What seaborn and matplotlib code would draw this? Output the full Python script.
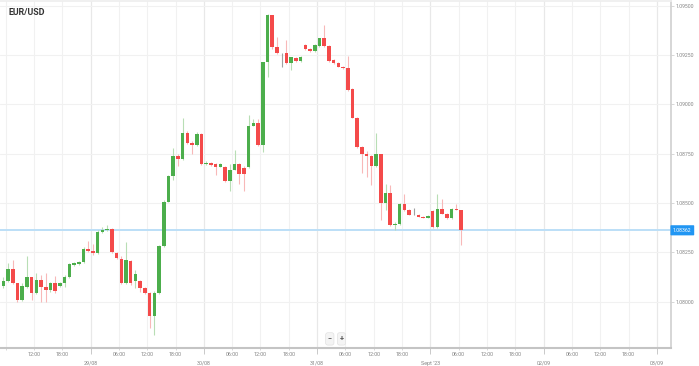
# EUR/USD hourly candles, 28/08 -> 01/09
import pandas as pd
import matplotlib
matplotlib.use("Agg")
import matplotlib.pyplot as plt
import matplotlib.dates as mdates
import matplotlib.transforms as mtransforms
import seaborn as sns

# Data (hourly bars starting 28/08 05:00)
start_time = "2023-08-28 05:00"

opens = [1.08081, 1.08106, 1.08164, 1.08093, 1.08008, 1.08076, 1.08123, 1.08045, 1.08110, 1.08076,
         1.08059, 1.08093, 1.08081, 1.08093, 1.08123, 1.08185, 1.08189, 1.08201, 1.08265, 1.08258,
         1.08245, 1.08354, 1.08362, 1.08371, 1.08245, 1.08219, 1.08093, 1.08207, 1.08106, 1.08106,
         1.08068, 1.08045, 1.07928, 1.08045, 1.08282, 1.08506, 1.08635, 1.08737, 1.08721, 1.08856,
         1.08804, 1.08792, 1.08851, 1.08696, 1.08703, 1.08696, 1.08682, 1.08682, 1.08610, 1.08669,
         1.08696, 1.08679, 1.08682, 1.08893, 1.08907, 1.08792, 1.09213, 1.09451, 1.09289, 1.09258,
         1.09259, 1.09208, 1.09236, 1.09222, 1.09303, 1.09281, 1.09269, 1.09298, 1.09335, 1.09298,
         1.09225, 1.09208, 1.09192, 1.09183, 1.09079, 1.08932, 1.08784, 1.08747, 1.08737, 1.08686,
         1.08747, 1.08500, 1.08551, 1.08388, 1.08393, 1.08494, 1.08464, 1.08448, 1.08442, 1.08430,
         1.08425, 1.08460, 1.08379, 1.08472, 1.08447, 1.08422, 1.08472, 1.08464]
highs = [1.08126, 1.08197, 1.08211, 1.08096, 1.08093, 1.08231, 1.08126, 1.08146, 1.08135, 1.08146,
         1.08101, 1.08130, 1.08101, 1.08135, 1.08194, 1.08201, 1.08206, 1.08278, 1.08308, 1.08295,
         1.08362, 1.08379, 1.08388, 1.08373, 1.08250, 1.08231, 1.08303, 1.08211, 1.08160, 1.08110,
         1.08074, 1.08050, 1.08054, 1.08287, 1.08514, 1.08641, 1.08777, 1.08747, 1.08929, 1.08863,
         1.08812, 1.08858, 1.08853, 1.08711, 1.08706, 1.08701, 1.08701, 1.08686, 1.08696, 1.08770,
         1.08701, 1.08686, 1.08944, 1.08924, 1.08927, 1.09217, 1.09460, 1.09455, 1.09343, 1.09262,
         1.09327, 1.09242, 1.09239, 1.09247, 1.09308, 1.09284, 1.09308, 1.09338, 1.09402, 1.09301,
         1.09228, 1.09213, 1.09197, 1.09247, 1.09082, 1.08934, 1.08787, 1.08762, 1.08742, 1.08854,
         1.08750, 1.08599, 1.08590, 1.08403, 1.08499, 1.08544, 1.08469, 1.08474, 1.08447, 1.08433,
         1.08438, 1.08464, 1.08548, 1.08523, 1.08450, 1.08475, 1.08494, 1.08467]
lows = [1.08068, 1.08101, 1.08089, 1.08000, 1.08005, 1.08069, 1.08008, 1.08039, 1.08000, 1.08000,
        1.08050, 1.08045, 1.08076, 1.08076, 1.08118, 1.08180, 1.08185, 1.08197, 1.08253, 1.08236,
        1.08241, 1.08346, 1.08359, 1.08245, 1.08219, 1.08089, 1.08089, 1.08084, 1.08068, 1.08050,
        1.08039, 1.07868, 1.07832, 1.08041, 1.08276, 1.08504, 1.08615, 1.08690, 1.08716, 1.08797,
        1.08747, 1.08787, 1.08691, 1.08691, 1.08686, 1.08641, 1.08681, 1.08605, 1.08561, 1.08666,
        1.08599, 1.08561, 1.08676, 1.08888, 1.08787, 1.08758, 1.09141, 1.09283, 1.09256, 1.09188,
        1.09205, 1.09175, 1.09217, 1.09217, 1.09278, 1.09264, 1.09266, 1.09293, 1.09293, 1.09217,
        1.09205, 1.09188, 1.09181, 1.09070, 1.08929, 1.08777, 1.08652, 1.08632, 1.08590, 1.08681,
        1.08413, 1.08464, 1.08383, 1.08362, 1.08388, 1.08458, 1.08438, 1.08438, 1.08427, 1.08422,
        1.08422, 1.08374, 1.08376, 1.08443, 1.08417, 1.08418, 1.08464, 1.08290]
closes = [1.08106, 1.08164, 1.08096, 1.08008, 1.08081, 1.08123, 1.08045, 1.08110, 1.08076, 1.08059,
          1.08093, 1.08054, 1.08093, 1.08123, 1.08189, 1.08197, 1.08201, 1.08265, 1.08258, 1.08245,
          1.08354, 1.08362, 1.08371, 1.08250, 1.08224, 1.08093, 1.08211, 1.08093, 1.08143, 1.08068,
          1.08045, 1.07928, 1.08045, 1.08282, 1.08506, 1.08635, 1.08737, 1.08721, 1.08856, 1.08804,
          1.08792, 1.08851, 1.08696, 1.08703, 1.08695, 1.08682, 1.08696, 1.08610, 1.08669, 1.08696,
          1.08649, 1.08649, 1.08893, 1.08907, 1.08792, 1.09213, 1.09455, 1.09289, 1.09259, 1.09258,
          1.09208, 1.09239, 1.09222, 1.09242, 1.09281, 1.09269, 1.09303, 1.09335, 1.09298, 1.09222,
          1.09208, 1.09192, 1.09183, 1.09074, 1.08932, 1.08784, 1.08747, 1.08737, 1.08686, 1.08747,
          1.08500, 1.08551, 1.08388, 1.08396, 1.08494, 1.08464, 1.08442, 1.08448, 1.08430, 1.08425,
          1.08433, 1.08379, 1.08472, 1.08447, 1.08422, 1.08472, 1.08467, 1.08362]

price_ticks = [1.08000, 1.08250, 1.08500, 1.08750, 1.09000, 1.09250, 1.09500]
day_ticks = ["2023-08-29", "2023-08-30", "2023-08-31", "2023-09-01", "2023-09-02", "2023-09-03"]
day_labels = ["29/08", "30/08", "31/08", "Sept '23", "02/09", "03/09"]

# Build frame
df = pd.DataFrame({"open": opens, "high": highs, "low": lows, "close": closes})
df["time"] = pd.date_range(start_time, periods=len(df), freq="h") + pd.Timedelta(minutes=30)
df["x"] = mdates.date2num(df["time"])

green, red, grey = "#4cae4c", "#f44a4a", "#8a8a8a"
green_w, red_w, grey_w = "#b8deb5", "#f8b8b8", "#a0a0a0"
body_col = [green if c > o else red if c < o else grey for o, c in zip(df.open, df.close)]
wick_col = [green_w if c > o else red_w if c < o else grey_w for o, c in zip(df.open, df.close)]
body_bottom = df[["open", "close"]].min(axis=1)
body_height = (df.close - df.open).abs().clip(lower=0.00004)

# Style
sns.set_theme(style="white")
plt.rcParams["font.family"] = ["Roboto", "DejaVu Sans"]

fig = plt.figure(figsize=(6.99, 3.66), dpi=100)
ax = fig.add_axes([0, 17.7 / 366, 671 / 699, 347.5 / 366])

# Candles
ax.vlines(df.x, df.low, df.high, colors=wick_col, linewidth=0.8, zorder=2)
ax.bar(df.x, body_height, bottom=body_bottom, width=0.75 / 24, color=body_col,
       linewidth=0, zorder=3)

# Current price line + tag
last = closes[-1]
ax.axhline(last, color="#bcdff7", linewidth=1.4, zorder=1)
trans = mtransforms.blended_transform_factory(ax.transAxes, ax.transData)
ax.text(1.003, last, f"{last:.5f}", transform=trans, fontsize=3.7, color="white",
        ha="left", va="center", clip_on=False,
        bbox=dict(boxstyle="round,pad=0.5,rounding_size=0.15", fc="#2196f3", ec="none"))

# Axes limits
t0 = pd.Timestamp("2023-08-29")
ax.set_xlim(mdates.date2num(t0 - pd.Timedelta(hours=19.2)),
            mdates.date2num(pd.Timestamp("2023-09-03") + pd.Timedelta(hours=3.0)))
ax.set_ylim(1.07764, 1.09525)

# X ticks: days (major) and 6-hourly (minor)
ax.set_xticks(mdates.date2num(pd.to_datetime(day_ticks)))
ax.set_xticklabels(day_labels)
six_h = pd.date_range("2023-08-28 06:00", "2023-09-03 00:00", freq="6h")
six_h = six_h[six_h.hour != 0]
ax.set_xticks(mdates.date2num(six_h), minor=True)
ax.xaxis.set_minor_formatter(mdates.DateFormatter("%H:%M"))
ax.tick_params(axis="x", which="major", bottom=True, length=4, width=0.6, color="#c0c0c0",
               pad=5.0, labelsize=3.9, labelcolor="#858585")
ax.tick_params(axis="x", which="minor", bottom=True, length=1.5, width=0.5, color="#c8c8c8",
               pad=1.3, labelsize=3.9, labelcolor="#858585")
ax.get_xticklabels(minor=True)[0].set_visible(False)

# Y ticks on the right
ax.yaxis.tick_right()
ax.set_yticks(price_ticks)
ax.set_yticklabels([f"{p:.5f}" for p in price_ticks])
ax.tick_params(axis="y", right=True, length=2, width=0.5, color="#c8c8c8", pad=1.5,
               labelsize=3.7, labelcolor="#858585")

# Grid
ax.grid(axis="y", which="major", color="#f1f1f1", linewidth=0.8)
ax.grid(axis="x", which="major", color="#e8e8e8", linewidth=0.9)
ax.grid(axis="x", which="minor", color="#f1f1f1", linewidth=0.8)
ax.set_axisbelow(True)

# Spines
ax.spines["left"].set_visible(False)
ax.spines["top"].set_color("#eeeeee")
ax.spines["right"].set_color("#cfcfcf")
ax.spines["right"].set_linewidth(1.2)
ax.spines["bottom"].set_color("#c4c4c4")
ax.spines["bottom"].set_linewidth(1.5)

# Title and zoom buttons
ax.text(0.012, 0.965, "EUR/USD", transform=ax.transAxes, fontsize=6.4, fontweight="bold",
        color="#333333", ha="left", va="center")
for xb, s in [(0.4915, "\u2212"), (0.509, "+")]:
    ax.text(xb, 0.027, s, transform=ax.transAxes, fontsize=5.2, fontweight="bold",
            color="#555555", ha="center", va="center",
            bbox=dict(boxstyle="round,pad=0.3", fc="#f4f4f4", ec="#dddddd", lw=0.4))

fig.savefig("out.png", dpi=100)
